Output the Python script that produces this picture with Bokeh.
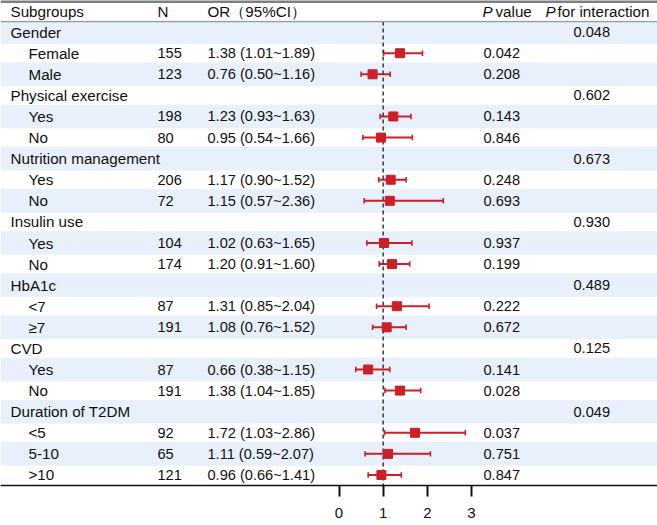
from bokeh.plotting import figure
from bokeh.models import Range1d, FixedTicker, Span, ColumnDataSource
from bokeh.core.properties import value
from bokeh.embed import file_html
from bokeh.resources import INLINE

# ---------------- data ----------------
groups = ["Gender", "Physical exercise", "Nutrition management", "Insulin use",
          "HbA1c", "CVD", "Duration of T2DM"]
subgroups = [["Female", "Male"], ["Yes", "No"], ["Yes", "No"], ["Yes", "No"],
             ["<7", "≥7"], ["Yes", "No"], ["<5", "5-10", ">10"]]
p_interaction = ["0.048", "0.602", "0.673", "0.930", "0.489", "0.125", "0.049"]
n_counts = [155, 123, 198, 80, 206, 72, 104, 174, 87, 191, 87, 191, 92, 65, 121]
or_values = [1.38, 0.76, 1.23, 0.95, 1.17, 1.15, 1.02, 1.20, 1.31, 1.08, 0.66, 1.38, 1.72, 1.11, 0.96]
ci_lower = [1.01, 0.50, 0.93, 0.54, 0.90, 0.57, 0.63, 0.91, 0.85, 0.76, 0.38, 1.04, 1.03, 0.59, 0.66]
ci_upper = [1.89, 1.16, 1.63, 1.66, 1.52, 2.36, 1.65, 1.60, 2.04, 1.52, 1.15, 1.85, 2.86, 2.07, 1.41]
p_values = ["0.042", "0.208", "0.143", "0.846", "0.248", "0.693", "0.937", "0.199",
            "0.222", "0.672", "0.141", "0.028", "0.037", "0.751", "0.847"]
x_ticks = [0, 1, 2, 3]
ref_value = 1

# ---------------- layout helpers ----------------
W, H = 657, 525
X0_PX, UNIT_PX = 338.5, 44.17          # pixel of OR=0 and pixels per OR unit
XS = -X0_PX / UNIT_PX
XE = (W - X0_PX) / UNIT_PX


def px(xpix):
    return XS + xpix * (XE - XS) / W


FONT = value("Liberation Sans")
FS_LAB = value("15.2px")
FS_NUM = value("14.6px")
TXT = "#101010"
RED = "#cc1f27"

# build rows
grp_rows, grp_lab, grp_pint = [], [], []
sub_rows, sub_lab = [], []
r = 1
for g, subs, pint in zip(groups, subgroups, p_interaction):
    grp_rows.append(r); grp_lab.append(g); grp_pint.append(pint)
    r += 1
    for s in subs:
        sub_rows.append(r); sub_lab.append(s)
        r += 1
n_rows = r - 1

or_text = [f"{o:.2f} ({lo:.2f}~{hi:.2f})" for o, lo, hi in zip(or_values, ci_lower, ci_upper)]

p = figure(width=W, height=H, x_range=Range1d(XS, XE), y_range=Range1d(n_rows + 0.5, -0.5),
           output_backend="svg", toolbar_location=None, y_axis_location=None,
           min_border_left=0, min_border_right=0, min_border_top=0, min_border_bottom=40)
p.outline_line_color = None
p.xgrid.visible = False
p.ygrid.visible = False
p.background_fill_color = "white"

# shading of odd rows
shade_rows = [i for i in range(1, n_rows + 1) if i % 2 == 1]
p.quad(left=XS, right=XE, top=[i - 0.56 for i in shade_rows], bottom=[i + 0.56 for i in shade_rows],
       fill_color="#e7f0fb", line_color=None)

# top rule and header rule
p.add_layout(Span(location=-0.5, dimension="width", line_color="#7f7f7f", line_width=5))
p.add_layout(Span(location=0.5, dimension="width", line_color="#9a9a9a", line_width=1.3))

# error bars
src = ColumnDataSource(dict(y=sub_rows, est=or_values, lo=ci_lower, hi=ci_upper,
                            ytop=[y - 0.13 for y in sub_rows], ybot=[y + 0.13 for y in sub_rows]))
p.segment(x0="lo", x1="hi", y0="y", y1="y", source=src, line_color=RED, line_width=2)
p.segment(x0="lo", x1="lo", y0="ytop", y1="ybot", source=src, line_color=RED, line_width=1.6)
p.segment(x0="hi", x1="hi", y0="ytop", y1="ybot", source=src, line_color=RED, line_width=1.6)

# reference dashed line
p.segment(x0=[ref_value], x1=[ref_value], y0=[0.5], y1=[n_rows + 0.5],
          line_color="#3a3a3a", line_width=1.5, line_dash="4 3")

p.scatter(x="est", y="y", source=src, marker="square", size=9, fill_color=RED, line_color=RED)

# ---------------- texts ----------------
def txt(xs, ys, texts, fs, style="normal"):
    p.text(x=xs, y=ys, text=texts, text_font=FONT, text_font_size=fs, text_color=TXT,
           text_baseline="middle", text_align="left", text_font_style=style)

# header
txt([px(10)], [0], ["Subgroups"], FS_LAB)
txt([px(157)], [0], ["N"], FS_LAB)
txt([px(207)], [0], ["OR（95%CI）"], FS_LAB)
txt([px(482), px(545)], [0, 0], ["P", "P"], FS_LAB, style="italic")
txt([px(495), px(557)], [0, 0], ["value", "for interaction"], FS_LAB)

# group rows
txt([px(10)] * len(grp_rows), grp_rows, grp_lab, FS_LAB)
txt([px(573)] * len(grp_rows), grp_rows, grp_pint, FS_NUM)

# subgroup rows
txt([px(28)] * len(sub_rows), sub_rows, sub_lab, FS_LAB)
txt([px(157)] * len(sub_rows), sub_rows, [str(n) for n in n_counts], FS_NUM)
txt([px(207)] * len(sub_rows), sub_rows, or_text, FS_NUM)
txt([px(483)] * len(sub_rows), sub_rows, p_values, FS_NUM)

# ---------------- axis ----------------
ax = p.xaxis[0]
ax.ticker = FixedTicker(ticks=x_ticks)
ax.major_tick_in = 0
ax.major_tick_out = 11
ax.major_tick_line_width = 2
ax.major_tick_line_color = "#111111"
ax.minor_tick_line_color = None
ax.axis_line_width = 1.5
ax.axis_line_color = "#111111"
ax.major_label_text_font = "Liberation Sans"
ax.major_label_text_font_size = "15px"
ax.major_label_text_color = TXT
ax.major_label_standoff = 11

open("out.html", "w").write(file_html(p, INLINE))
